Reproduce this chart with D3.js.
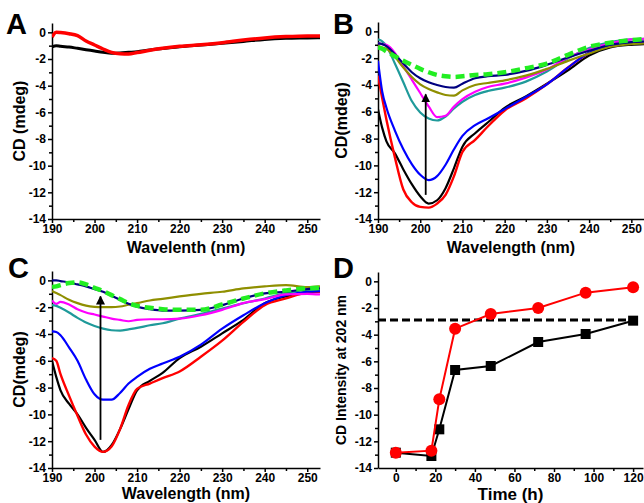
<!DOCTYPE html>
<html>
<head>
<meta charset="utf-8">
<style>
    body { margin: 0; background: #fff; }
    svg { font-family: "Liberation Sans", Arial, sans-serif; }
    .axis path, .axis line { stroke: #000; stroke-width: 1.5; }
    .axis text { font-size: 12px; font-weight: bold; fill: #000; }
    .title { font-size: 16px; font-weight: bold; }
    .letter { font-size: 29px; font-weight: bold; }
</style>
</head>
<body>
<script src="https://d3js.org/d3.v7.min.js"></script>
<script>

    // wavelength grid (nm) shared by the spectra
    var wave = [190, 191, 192, 194, 196, 198, 200, 202, 204, 206, 208, 210, 213, 216, 220, 225, 230, 235, 240, 245, 250, 253];

    // panel A
    var aBlack = [-1.1, -1.0, -1.05, -1.1, -1.2, -1.3, -1.4, -1.5, -1.57, -1.55, -1.5, -1.45, -1.32, -1.22, -1.08, -0.95, -0.82, -0.68, -0.53, -0.45, -0.42, -0.4];
    var aRed = [-0.35, 0.0, -0.02, -0.1, -0.25, -0.65, -0.95, -1.25, -1.5, -1.6, -1.62, -1.52, -1.35, -1.2, -1.05, -0.93, -0.78, -0.58, -0.42, -0.32, -0.27, -0.27];

    // panel B
    var bBlack = [-5.8, -7.2, -8.2, -9.1, -10.3, -11.4, -12.3, -12.85, -12.6, -11.7, -10.2, -8.6, -7.6, -6.8, -5.7, -4.85, -3.9, -2.9, -1.8, -1.2, -1.0, -0.95];
    var bRed = [-3.3, -5.0, -6.6, -9.4, -11.8, -12.75, -13.1, -13.15, -12.85, -12.2, -10.8, -9.0, -8.1, -7.1, -5.9, -5.0, -3.95, -2.7, -1.6, -1.1, -0.85, -0.8];
    var bBlue = [-2.2, -4.5, -5.7, -7.4, -8.8, -9.9, -10.7, -11.1, -10.8, -9.95, -8.8, -7.8, -7.0, -6.5, -5.8, -4.9, -3.95, -2.7, -1.6, -1.1, -0.85, -0.8];
    var bTeal = [-0.6, -0.75, -1.1, -2.4, -3.8, -5.2, -6.05, -6.5, -6.65, -6.35, -5.75, -5.25, -4.75, -4.45, -4.2, -3.75, -3.0, -2.0, -1.25, -0.8, -0.6, -0.55];
    var bMagenta = [-0.9, -0.95, -1.0, -1.6, -2.6, -3.6, -4.6, -5.6, -6.4, -6.3, -5.6, -5.05, -4.5, -4.15, -3.9, -3.45, -2.85, -1.95, -1.35, -0.9, -0.6, -0.55];
    var bOlive = [-1.1, -1.2, -1.3, -1.9, -2.7, -3.4, -3.95, -4.3, -4.55, -4.75, -4.8, -4.4, -4.0, -3.85, -3.65, -3.3, -2.8, -2.2, -1.65, -1.15, -0.95, -0.9];
    var bNavy = [-0.9, -0.95, -1.1, -1.7, -2.4, -3.05, -3.5, -3.8, -4.0, -4.15, -4.2, -3.9, -3.5, -3.35, -3.25, -2.95, -2.5, -1.95, -1.45, -1.0, -0.8, -0.75];
    var bGreen = [-1.2, -1.3, -1.5, -1.85, -2.2, -2.5, -2.8, -3.05, -3.25, -3.35, -3.4, -3.35, -3.25, -3.2, -3.05, -2.75, -2.4, -1.75, -1.15, -0.85, -0.65, -0.57];

    // panel C
    var cBlack = [-6.0, -7.2, -8.2, -9.2, -10.0, -11.0, -11.9, -12.8, -12.3, -11.1, -9.6, -8.2, -7.5, -6.9, -5.8, -4.95, -3.95, -2.95, -1.7, -1.2, -0.85, -0.8];
    var cRed = [-5.8, -6.0, -7.0, -8.6, -10.1, -11.5, -12.4, -12.8, -12.4, -11.1, -9.3, -8.1, -7.7, -7.3, -6.8, -5.7, -4.5, -3.1, -1.85, -1.35, -0.9, -0.85];
    var cBlue = [-3.8, -3.85, -4.1, -5.0, -6.0, -7.4, -8.5, -8.9, -8.9, -8.4, -7.7, -7.2, -6.6, -6.2, -5.7, -4.8, -3.6, -2.6, -1.7, -1.1, -0.85, -0.8];
    var cTeal = [-1.85, -1.9, -2.05, -2.4, -2.8, -3.15, -3.4, -3.6, -3.72, -3.75, -3.65, -3.55, -3.35, -3.2, -2.85, -2.5, -2.1, -1.7, -1.35, -0.95, -0.7, -0.65];
    var cMagenta = [-1.5, -1.75, -1.6, -1.8, -2.15, -2.4, -2.55, -2.7, -2.85, -2.95, -3.05, -2.95, -2.9, -2.9, -2.85, -2.6, -2.2, -1.7, -1.4, -1.05, -1.0, -1.05];
    var cOlive = [-0.8, -0.95, -1.1, -1.45, -1.7, -1.88, -1.97, -2.0, -2.0, -1.95, -1.82, -1.7, -1.5, -1.38, -1.2, -1.0, -0.85, -0.6, -0.45, -0.35, -0.5, -0.45];
    var cNavy = [0.0, 0.0, -0.05, -0.15, -0.3, -0.45, -0.65, -0.85, -1.15, -1.45, -1.75, -1.97, -2.15, -2.25, -2.25, -2.2, -1.85, -1.35, -0.97, -0.85, -0.65, -0.6];
    var cGreen = [-0.5, -0.45, -0.35, -0.2, -0.15, -0.3, -0.55, -0.8, -1.1, -1.4, -1.7, -1.9, -2.05, -2.15, -2.2, -2.2, -1.8, -1.35, -0.97, -0.75, -0.6, -0.55];

    // panel D
    var hours = [0, 18, 22, 30, 48, 72, 96, 120];
    var dBlack = [-12.85, -13.1, -11.1, -6.65, -6.35, -4.55, -3.95, -2.95];
    var dRed = [-12.85, -12.7, -8.85, -3.55, -2.45, -2.0, -0.85, -0.45];
    var dRef = -2.9;

    var yTicks = [0, -2, -4, -6, -8, -10, -12, -14];

    var svg = d3.select("body").append("svg")
        .attr("width", 644)
        .attr("height", 503);

    svg.append("defs").append("marker")
        .attr("id", "arrowhead")
        .attr("viewBox", "0 -5 10 10")
        .attr("refX", 9)
        .attr("refY", 0)
        .attr("markerWidth", 5)
        .attr("markerHeight", 5)
        .attr("orient", "auto")
        .append("path")
        .attr("d", "M0,-5L10,0L0,5Z")
        .attr("fill", "#000");

    function panel(box, xDomain, xMajor, xMinor) {
        var x = d3.scaleLinear().domain(xDomain).range([box.l, box.r]);
        var y = d3.scaleLinear().domain([-14, 0.7]).range([box.b, box.t]);
        var g = svg.append("g");

        var ax = d3.axisBottom(x).tickValues(xMajor).tickSize(4).tickPadding(1).tickSizeOuter(0);
        g.append("g").attr("class", "axis")
            .attr("transform", "translate(0," + box.b + ")")
            .call(ax);
        g.append("g").attr("class", "axis")
            .attr("transform", "translate(0," + box.b + ")")
            .call(d3.axisBottom(x).tickValues(xMinor).tickSize(3).tickFormat("").tickSizeOuter(0))
            .select(".domain").remove();

        var ay = d3.axisLeft(y).tickValues(yTicks).tickSize(4).tickPadding(2).tickSizeOuter(0)
            .tickFormat(function(d) { return d === 0 ? "0" : d3.format("d")(d).replace("−", "-"); });
        g.append("g").attr("class", "axis")
            .attr("transform", "translate(" + box.l + ",0)")
            .call(ay);
        g.append("g").attr("class", "axis")
            .attr("transform", "translate(" + box.l + ",0)")
            .call(d3.axisLeft(y).tickValues(d3.range(-13, 1, 2)).tickSize(3).tickFormat("").tickSizeOuter(0))
            .select(".domain").remove();

        var clipId = "clip" + box.l + "_" + box.t;
        svg.select("defs").append("clipPath").attr("id", clipId)
            .append("rect").attr("x", box.l).attr("y", box.t - 10)
            .attr("width", box.r - box.l + 2).attr("height", box.b - box.t + 10);

        var plot = g.append("g").attr("clip-path", "url(#" + clipId + ")");
        return { x: x, y: y, g: g, plot: plot };
    }

    function spectrum(p, vals, color, width, dash) {
        var line = d3.line()
            .x(function(d, i) { return p.x(wave[i]); })
            .y(function(d) { return p.y(d); })
            .curve(d3.curveMonotoneX);
        p.plot.append("path")
            .attr("d", line(vals))
            .attr("fill", "none")
            .attr("stroke", color)
            .attr("stroke-width", width)
            .attr("stroke-dasharray", dash || null)
            .attr("stroke-linejoin", "round");
    }

    function arrow(p, wl, from, to) {
        p.g.append("line")
            .attr("x1", p.x(wl)).attr("x2", p.x(wl))
            .attr("y1", p.y(from)).attr("y2", p.y(to))
            .attr("stroke", "#000")
            .attr("stroke-width", 1.8)
            .attr("marker-end", "url(#arrowhead)");
    }

    function labels(box, letter, xTitle, yTitle, yx, ySize) {
        svg.append("text").attr("class", "letter")
            .attr("x", box.lx).attr("y", box.ly).text(letter);
        svg.append("text").attr("class", "title")
            .attr("x", (box.l + box.r) / 2).attr("y", box.b + box.tb)
            .attr("text-anchor", "middle")
            .style("font-size", box.xs || null)
            .text(xTitle);
        svg.append("text").attr("class", "title")
            .attr("transform", "translate(" + yx + "," + ((box.t + box.b) / 2) + ") rotate(-90)")
            .attr("text-anchor", "middle")
            .style("font-size", ySize || null)
            .text(yTitle);
    }

    var waveMajor = [190, 200, 210, 220, 230, 240, 250];
    var waveMinor = [195, 205, 215, 225, 235, 245];

    // A
    var boxA = { l: 52, r: 320, t: 23, b: 219, lx: 6, ly: 34, tb: 34 };
    var pA = panel(boxA, [190, 253], waveMajor, waveMinor);
    spectrum(pA, aBlack, "#000", 3);
    spectrum(pA, aRed, "#ff0000", 3.5);
    labels(boxA, "A", "Wavelenth (nm)", "CD (mdeg)", 25);

    // B
    var boxB = { l: 378, r: 644, t: 22, b: 219, lx: 333, ly: 34, tb: 34 };
    var pB = panel(boxB, [190, 253], waveMajor, waveMinor);
    spectrum(pB, bBlack, "#000", 2.2);
    spectrum(pB, bRed, "#ff0000", 2.4);
    spectrum(pB, bBlue, "#0000ff", 2.2);
    spectrum(pB, bTeal, "#1f9a9a", 2.2);
    spectrum(pB, bMagenta, "#ff00ff", 2.2);
    spectrum(pB, bOlive, "#8f8f00", 2.2);
    spectrum(pB, bNavy, "#000080", 2.2);
    spectrum(pB, bGreen, "#22ee22", 4.5, "9,5");
    arrow(pB, 201.3, -12.2, -4.7);
    labels(boxB, "B", "Wavelength (nm)", "CD(mdeg)", 347);

    // C
    var boxC = { l: 52, r: 320, t: 271, b: 468, lx: 8, ly: 278, tb: 31 };
    var pC = panel(boxC, [190, 253], waveMajor, waveMinor);
    spectrum(pC, cBlack, "#000", 2.2);
    spectrum(pC, cRed, "#ff0000", 2.4);
    spectrum(pC, cBlue, "#0000ff", 2.2);
    spectrum(pC, cTeal, "#1f9a9a", 2.2);
    spectrum(pC, cMagenta, "#ff00ff", 2.2);
    spectrum(pC, cOlive, "#8f8f00", 2.2);
    spectrum(pC, cNavy, "#000080", 2.2);
    spectrum(pC, cGreen, "#22ee22", 4.5, "9,5");
    arrow(pC, 201.4, -11.9, -1.2);
    labels(boxC, "C", "Wavelength (nm)", "CD(mdeg)", 25);

    // D
    var boxD = { l: 378, r: 643, t: 272, b: 468, lx: 333, ly: 278, tb: 32, xs: "17px" };
    var pD = panel(boxD, [-9, 125], [0, 20, 40, 60, 80, 100, 120], [10, 30, 50, 70, 90, 110]);

    pD.g.append("line")
        .attr("x1", pD.x(-9)).attr("x2", pD.x(120))
        .attr("y1", pD.y(dRef)).attr("y2", pD.y(dRef))
        .attr("stroke", "#000").attr("stroke-width", 3)
        .attr("stroke-dasharray", "8,4");

    var dLine = d3.line()
        .x(function(d, i) { return pD.x(hours[i]); })
        .y(function(d) { return pD.y(d); });

    pD.g.append("path").attr("d", dLine(dBlack))
        .attr("fill", "none").attr("stroke", "#000").attr("stroke-width", 2);
    pD.g.selectAll(".sq").data(dBlack).enter().append("rect")
        .attr("x", function(d, i) { return pD.x(hours[i]) - 5; })
        .attr("y", function(d) { return pD.y(d) - 5; })
        .attr("width", 10).attr("height", 10)
        .attr("fill", "#000");

    pD.g.append("path").attr("d", dLine(dRed))
        .attr("fill", "none").attr("stroke", "#ff0000").attr("stroke-width", 2);
    pD.g.selectAll(".dot").data(dRed).enter().append("circle")
        .attr("cx", function(d, i) { return pD.x(hours[i]); })
        .attr("cy", function(d) { return pD.y(d); })
        .attr("r", 6)
        .attr("fill", "#ff0000");

    labels(boxD, "D", "Time (h)", "CD Intensity at 202 nm", 346, "14px");

</script>
</body>
</html>
